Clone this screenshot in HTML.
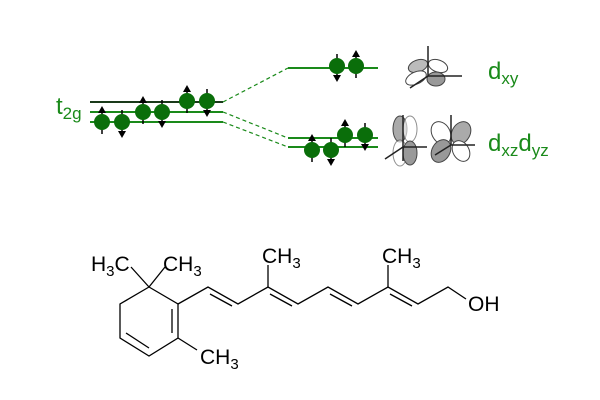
<!DOCTYPE html>
<html><head><style>html,body{margin:0;padding:0;background:#fff;}svg{display:block;}</style></head>
<body>
<svg width="600" height="400" viewBox="0 0 600 400" xmlns="http://www.w3.org/2000/svg" font-family="Liberation Sans, sans-serif">
<defs>
<g id="up"><line x1="0" y1="-12" x2="0" y2="12" stroke="#000" stroke-width="1.5"/><path d="M-4,-9 L4,-9 L0,-16Z" fill="#000"/><circle r="8" fill="#0a6e0a"/></g>
<g id="dn"><line x1="0" y1="-12" x2="0" y2="12" stroke="#000" stroke-width="1.5"/><path d="M-4,9 L4,9 L0,16Z" fill="#000"/><circle r="8" fill="#0a6e0a"/></g>
</defs>
<g stroke-width="2">
<line x1="90" y1="102" x2="223" y2="102" stroke="#1a3a1a"/>
<line x1="90" y1="112" x2="223" y2="112" stroke="#1a8a1a"/>
<line x1="90" y1="122" x2="223" y2="122" stroke="#1a8a1a"/>
<line x1="288" y1="68" x2="378" y2="68" stroke="#1a8a1a"/>
<line x1="288" y1="138" x2="378" y2="138" stroke="#1a8a1a"/>
<line x1="288" y1="147" x2="378" y2="147" stroke="#1a8a1a"/>
</g>
<g stroke="#1a8a1a" stroke-width="1.2" stroke-dasharray="4,3">
<line x1="223" y1="102" x2="288" y2="68"/>
<line x1="223" y1="112" x2="288" y2="138"/>
<line x1="223" y1="122" x2="288" y2="147"/>
</g>
<use href="#up" x="102" y="122"/><use href="#dn" x="122" y="122"/>
<use href="#up" x="143" y="112"/><use href="#dn" x="162" y="112"/>
<use href="#up" x="187" y="101"/><use href="#dn" x="207" y="101"/>
<use href="#dn" x="337" y="66"/><use href="#up" x="356" y="66"/>
<use href="#up" x="312" y="150"/><use href="#dn" x="331" y="150"/>
<use href="#up" x="345" y="135"/><use href="#dn" x="365" y="135"/>
<text x="56" y="114" font-size="24" fill="#1a8a1a">t<tspan font-size="17" dy="5">2g</tspan></text>
<text x="488" y="79" font-size="24" fill="#1a8a1a">d<tspan font-size="17" dy="5">xy</tspan></text>
<text x="488" y="151" font-size="24" fill="#1a8a1a">d<tspan font-size="17" dy="5">xz</tspan><tspan font-size="24" dy="-5">d</tspan><tspan font-size="17" dy="5">yz</tspan></text>
<g stroke="#444" stroke-width="1">
<g transform="translate(428,72)">
<ellipse cx="-10" cy="-6" rx="10" ry="6" fill="#bbb" transform="rotate(-20 -10 -6)"/>
<ellipse cx="10" cy="-6" rx="10" ry="6" fill="#fff" transform="rotate(20 10 -6)"/>
<ellipse cx="-12" cy="6" rx="11" ry="6" fill="#fff" transform="rotate(-25 -12 6)"/>
<ellipse cx="8" cy="7" rx="9" ry="7" fill="#999"/>
<line x1="0" y1="-26" x2="0" y2="4" stroke="#222" stroke-width="1.5"/>
<line x1="0" y1="4" x2="34" y2="4" stroke="#222" stroke-width="1.5"/>
<line x1="0" y1="4" x2="-18" y2="16" stroke="#222" stroke-width="1.5"/>
</g>
<g transform="translate(405,141)">
<ellipse cx="-5" cy="-12" rx="7" ry="13" fill="#aaa"/>
<ellipse cx="5" cy="-12" rx="7" ry="13" fill="#fff" opacity="0.6"/>
<ellipse cx="-5" cy="12" rx="7" ry="13" fill="#fff" opacity="0.6"/>
<ellipse cx="5" cy="12" rx="7" ry="12" fill="#999"/>
<line x1="-2" y1="-26" x2="-2" y2="20" stroke="#222" stroke-width="1.5"/>
<line x1="-2" y1="6" x2="22" y2="6" stroke="#222" stroke-width="1.5"/>
<line x1="-2" y1="6" x2="-20" y2="18" stroke="#222" stroke-width="1.5"/>
</g>
<g transform="translate(451,141)">
<ellipse cx="-10" cy="-8" rx="9" ry="12" fill="#fff" transform="rotate(-30 -10 -8)"/>
<ellipse cx="10" cy="-8" rx="9" ry="12" fill="#aaa" transform="rotate(30 10 -8)"/>
<ellipse cx="-10" cy="10" rx="9" ry="12" fill="#999" transform="rotate(30 -10 10)"/>
<ellipse cx="10" cy="10" rx="8" ry="11" fill="#fff" transform="rotate(-30 10 10)"/>
<line x1="0" y1="-26" x2="0" y2="4" stroke="#222" stroke-width="1.5"/>
<line x1="0" y1="4" x2="24" y2="4" stroke="#222" stroke-width="1.5"/>
<line x1="0" y1="4" x2="-16" y2="14" stroke="#222" stroke-width="1.5"/>
</g>
</g>
<g stroke="#000" stroke-width="1.3" fill="none">
<polyline points="149,287 178,304 178,338 149,356 120,338 120,304 149,287"/>
<line x1="172" y1="309" x2="172" y2="333"/>
<line x1="126" y1="333" x2="149" y2="348"/>
<line x1="149" y1="287" x2="131" y2="267"/>
<line x1="149" y1="287" x2="165" y2="267"/>
<line x1="178" y1="338" x2="197" y2="350"/>
<polyline points="178,304 208,287 238,304 268,287 298,304 328,287 358,304 388,287 418,304 448,287 466,299"/>
<line x1="210" y1="294" x2="232" y2="306"/>
<line x1="270" y1="294" x2="292" y2="306"/>
<line x1="330" y1="294" x2="352" y2="306"/>
<line x1="390" y1="294" x2="412" y2="306"/>
<line x1="268" y1="287" x2="268" y2="265"/>
<line x1="388" y1="287" x2="388" y2="265"/>
</g>
<g font-size="21" fill="#000">
<text x="91" y="271">H<tspan font-size="15" dy="5">3</tspan><tspan dy="-5">C</tspan></text>
<text x="163" y="271">CH<tspan font-size="15" dy="5">3</tspan></text>
<text x="262" y="263">CH<tspan font-size="15" dy="5">3</tspan></text>
<text x="382" y="263">CH<tspan font-size="15" dy="5">3</tspan></text>
<text x="200" y="364">CH<tspan font-size="15" dy="5">3</tspan></text>
<text x="468" y="311">OH</text>
</g>
</svg>
</body></html>
